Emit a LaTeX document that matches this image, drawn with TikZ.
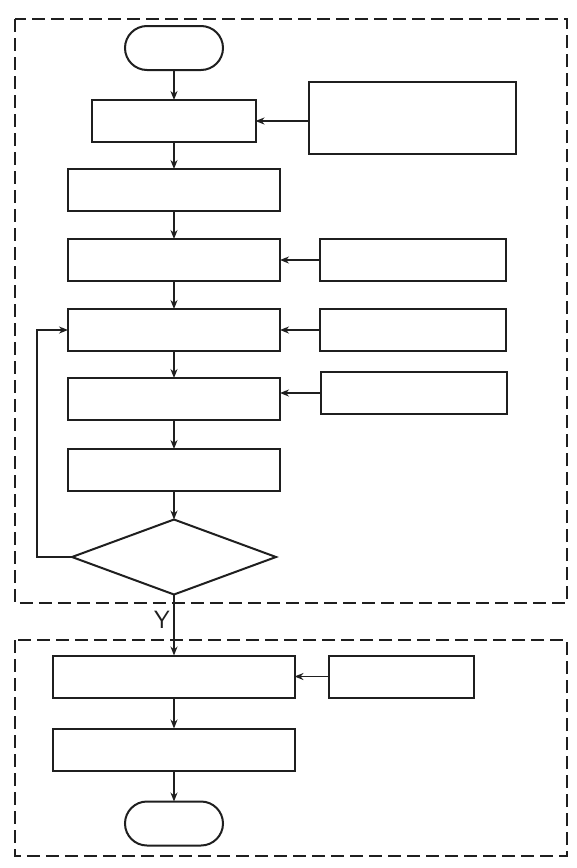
\documentclass[tikz,border=0pt]{standalone}
\usepackage{tikz}
\usetikzlibrary{arrows.meta,positioning,shapes.geometric,shapes.misc}
\begin{document}
\begin{tikzpicture}[->,>={Stealth[length=9pt,width=7pt]},x=1pt,y=1pt,
    line width=1.6pt,color=black!88,
    main box/.style={rectangle,draw,minimum width=212pt,minimum height=42pt,inner sep=0pt,outer sep=0pt,line width=2pt},
    side box/.style={rectangle,draw,minimum width=186pt,minimum height=42pt,inner sep=0pt,outer sep=0pt,line width=2pt},
    term node/.style={rounded rectangle,draw,minimum width=98pt,minimum height=44pt,inner sep=0pt,outer sep=0pt,line width=2pt},
    test node/.style={diamond,draw,minimum width=204pt,minimum height=75pt,inner sep=0pt,outer sep=0pt,line width=2pt},
    frame/.style={-,dash pattern=on 13pt off 6pt,line width=2.3pt}]

  \useasboundingbox (-174,-820) rectangle (402,48);

  % main column
  \node[term node]                     (start) at (0,0) {};
  \node[main box,minimum width=163pt]  (a) [below=30pt of start] {};
  \node[main box]                      (b) [below=27pt of a] {};
  \node[main box]                      (c) [below=28pt of b] {};
  \node[main box]                      (d) [below=28pt of c] {};
  \node[main box]                      (e) [below=27pt of d] {};
  \node[main box]                      (f) [below=29pt of e] {};
  \node[test node]                     (dec) [below=28.5pt of f] {};
  \node[main box,minimum width=241pt]  (g) [below=61pt of dec] {};
  \node[main box,minimum width=241pt]  (h) [below=31pt of g] {};
  \node[term node]                     (stop) [below=31pt of h] {};

  % side inputs
  \node[side box,minimum width=207pt,minimum height=72pt] (r1) [right=53pt of a,yshift=3.5pt] {};
  \node[side box]                      (r2) [right=40pt of c] {};
  \node[side box]                      (r3) [right=40pt of d] {};
  \node[side box]                      (r4) [right=41pt of e,yshift=6pt] {};
  \node[side box,minimum width=145pt]  (r5) [right=34pt of g] {};

  % dashed frames
  \draw[frame] (-159,29) rectangle (393,-555);
  \draw[frame] (-159,-592) rectangle (393,-808);

  \path (start) edge (a)
        (a) edge (b)
        (b) edge (c)
        (c) edge (d)
        (d) edge (e)
        (e) edge (f)
        (f) edge (dec)
        (dec) edge node[left,pos=0.42,font=\sffamily\fontsize{25}{25}\selectfont] {Y} (g)
        (g) edge (h)
        (h) edge (stop)
        (r2) edge (c)
        (r3) edge (d)
        (r5) edge (g);
  \draw (r1.west |- a) -- (a);
  \draw (r4.west) -- (r4.west -| e.east);
  \draw (dec.west) -- ++(-35,0) |- (d.west);

\end{tikzpicture}
\end{document}
